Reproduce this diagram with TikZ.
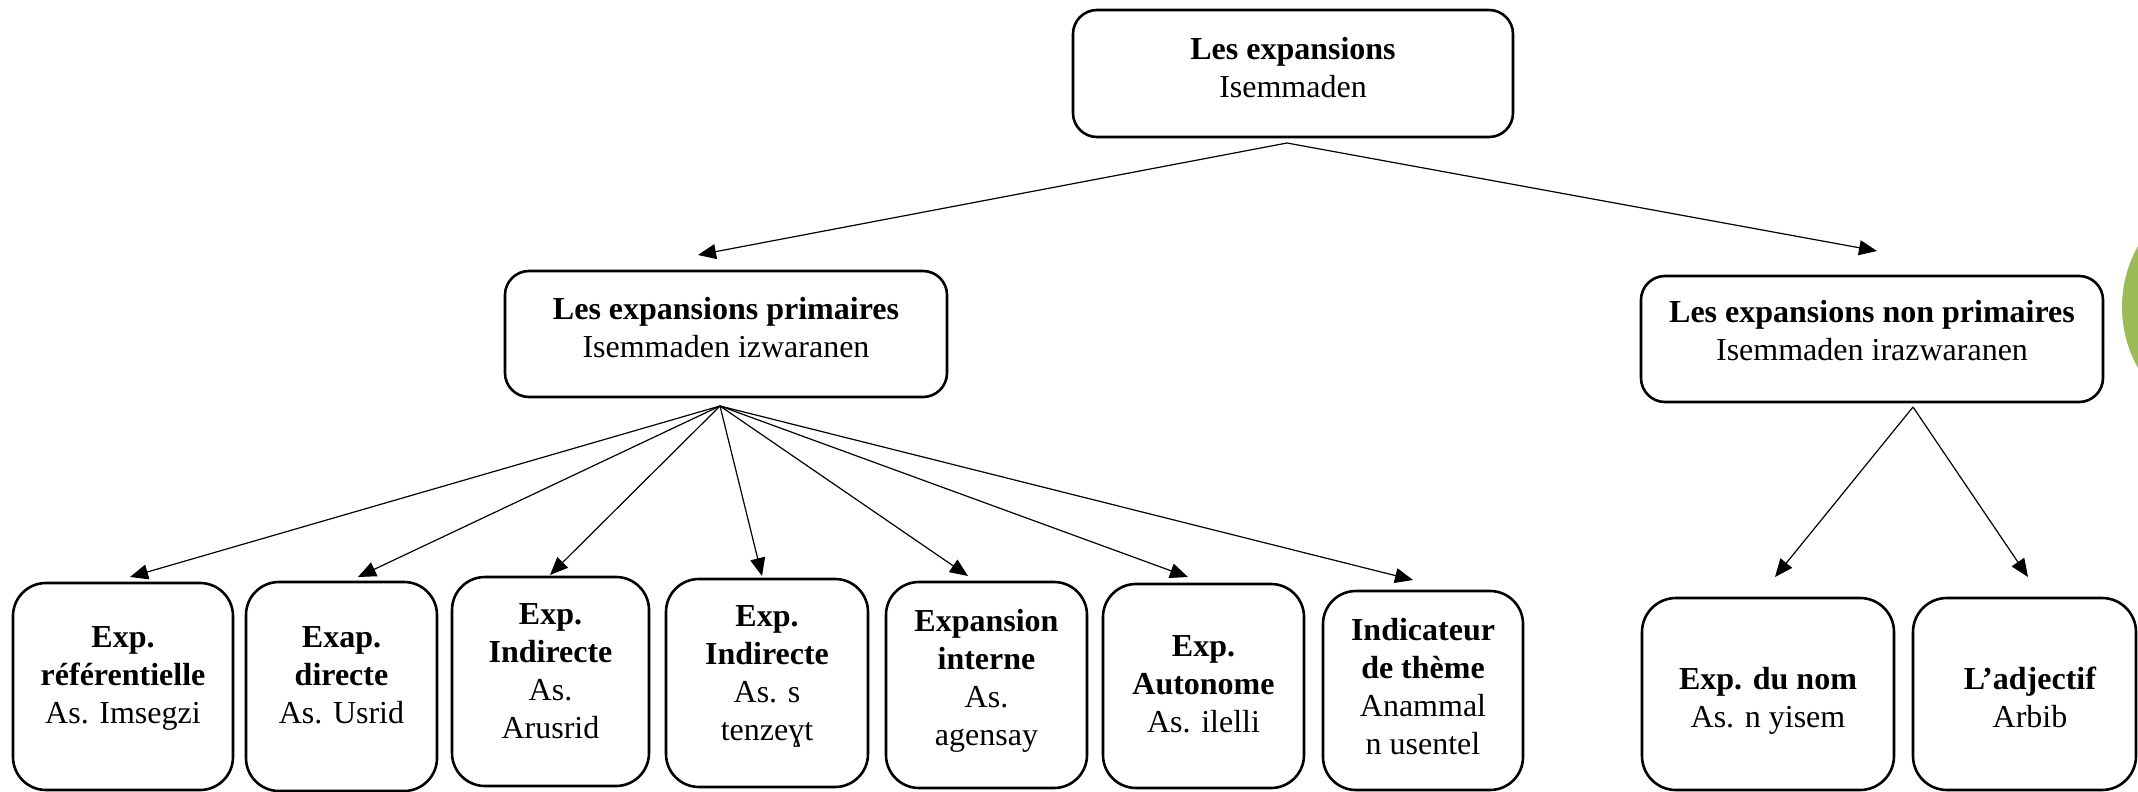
\documentclass[tikz,border=0pt]{standalone}
\usepackage{fontspec}
\setmainfont{Liberation Serif}
\usetikzlibrary{arrows.meta}
\definecolor{olivegreen}{HTML}{9BBB59}
\begin{document}
\begin{tikzpicture}[x=0.5pt,y=-0.5pt,
  box/.style={draw, line width=1.3pt, rounded corners=#1, inner sep=0pt},
  box/.default=12pt,
  txt/.style={font=\fontsize{16pt}{19pt}\selectfont, align=center, inner sep=0pt, anchor=north},
  arr/.style={-{Triangle[length=9pt,width=7.5pt]}, line width=0.6pt}]
\clip (0,0) rectangle (2138,792);
\fill[white] (0,0) rectangle (2138,792);
\fill[olivegreen] (2246,307) circle[radius=62pt];

% level 0
\node[box, minimum width=220pt, minimum height=63.5pt] (top) at (1293,73.5) {};
\node[txt] (topt) at (1293,36.5) {\textbf{Les expansions}\\Isemmaden};

% level 1
\node[box, minimum width=221pt, minimum height=63pt] (prim) at (726,334) {};
\node[txt] (primt) at (726,296.5) {\textbf{Les expansions primaires}\\Isemmaden izwaranen};
\node[box, minimum width=231pt, minimum height=63pt] (nonp) at (1872,339) {};
\node[txt] (nonpt) at (1872,299.5) {\textbf{Les expansions non primaires}\\Isemmaden irazwaranen};

% level 2
\node[box=16.5pt, minimum width=110pt, minimum height=103.5pt] (b1) at (123,686.5) {};
\node[txt] (b1t) at (123,626.5) {\textbf{Exp.}\\\textbf{référentielle}\\As. Imsegzi};
\node[box=16.5pt, minimum width=95.5pt, minimum height=104.5pt] (b2) at (341.5,686.5) {};
\node[txt] (b2t) at (341.5,626.5) {\textbf{Exap.}\\\textbf{directe}\\As. Usrid};
\node[box=16.5pt, minimum width=98.5pt, minimum height=104.5pt] (b3) at (550.5,681.5) {};
\node[txt] (b3t) at (550.5,603.5) {\textbf{Exp.}\\\textbf{Indirecte}\\As.\\Arusrid};
\node[box=16.5pt, minimum width=101pt, minimum height=104pt] (b4) at (767,683) {};
\node[txt] (b4t) at (767,605.5) {\textbf{Exp.}\\\textbf{Indirecte}\\As. s\\tenzeɣt};
\node[box=16.5pt, minimum width=100.5pt, minimum height=103pt] (b5) at (986.5,685) {};
\node[txt] (b5t) at (986.5,608.5) {\textbf{Expansion}\\\textbf{interne}\\As.\\agensay};
\node[box=16.5pt, minimum width=100.5pt, minimum height=102pt] (b6) at (1203.5,686) {};
\node[txt] (b6t) at (1203.5,635.5) {\textbf{Exp.}\\\textbf{Autonome}\\As. ilelli};
\node[box=16.5pt, minimum width=100pt, minimum height=99.5pt] (b7) at (1423,690.5) {};
\node[txt] (b7t) at (1423,617.5) {\textbf{Indicateur}\\\textbf{de thème}\\Anammal\\n usentel};
\node[box=17pt, minimum width=126pt, minimum height=96pt] (b8) at (1768,694) {};
\node[txt] (b8t) at (1768,666.5) {\textbf{Exp. du nom}\\As. n yisem};
\node[box=17pt, minimum width=111.5pt, minimum height=96pt] (b9) at (2024.5,694) {};
\node[txt] (b9t) at (2030,666.5) {\textbf{L’adjectif}\\Arbib};

% connector end points
\coordinate (ta) at (1287,143);
\coordinate (tp) at (698,255);
\coordinate (tn) at (1877,251);
\coordinate (pa) at (720,406);
\coordinate (p1) at (130,577);
\coordinate (p2) at (358,577);
\coordinate (p3) at (550,575);
\coordinate (p4) at (762,576);
\coordinate (p5) at (968,576);
\coordinate (p6) at (1188,577);
\coordinate (p7) at (1413,580);
\coordinate (na) at (1913,407);
\coordinate (n8) at (1775,577);
\coordinate (n9) at (2028,577);

\draw[arr] (ta) -- (tp);
\draw[arr] (ta) -- (tn);
\foreach \i in {1,...,7} {\draw[arr] (pa) -- (p\i);}
\draw[arr] (na) -- (n8);
\draw[arr] (na) -- (n9);
\end{tikzpicture}
\end{document}
